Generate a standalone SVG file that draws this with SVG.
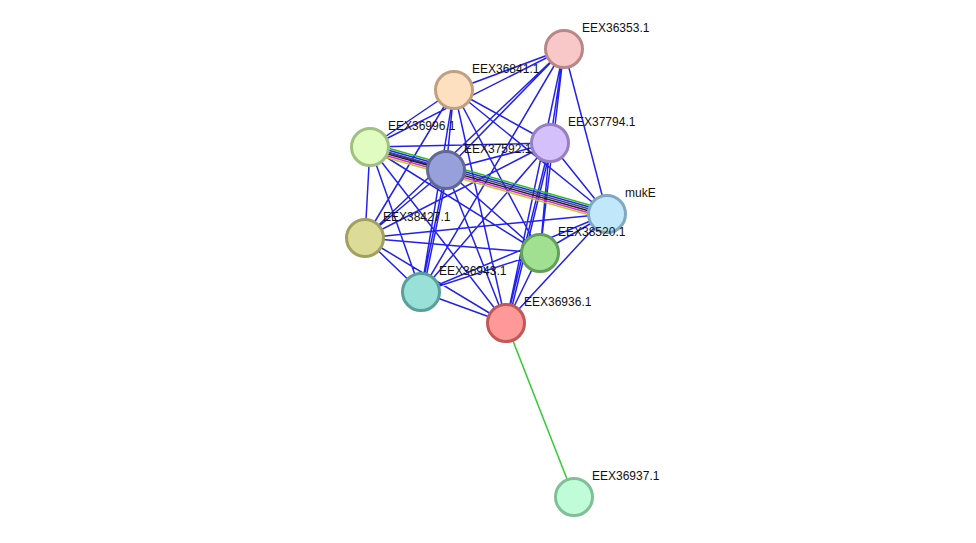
<svg xmlns="http://www.w3.org/2000/svg" width="976" height="543" viewBox="0 0 976 543">
<style>
.e{stroke:#2222ee;stroke-width:1.5;fill:none}
.n{stroke-width:3}
text{font-family:"Liberation Sans",Arial,sans-serif;font-size:12px;fill:#111}
</style>
<rect width="976" height="543" fill="#fff"/>
<g id="edges">
<path class="e" d="M564 49L454 90M564 49L370 147M564 49L550 143M564 49L446 170M564 49L607 214M564 49L365 238M564 49L540 253M564 49L421 292M564 49L506 323
M454 90L370 147M454 90L550 143M454 90L446 170M454 90L607 214M454 90L365 238M454 90L540 253M454 90L421 292M454 90L506 323
M370 147L550 143M370 147L446 170M370 147L365 238M370 147L540 253M370 147L421 292M370 147L506 323
M550 143L446 170M550 143L607 214M550 143L365 238M550 143L540 253M550 143L421 292M550 143L506 323M552 143L508 323
M446 170L365 238M446 170L540 253M446 170L421 292M448 170L423 292M446 170L506 323
M607 214L365 238M607 214L540 253M607 214L421 292M607 214L506 323
M365 238L540 253M365 238L421 292M365 238L506 323
M540 253L421 292M540 253L506 323M421 292L506 323"/>
<path d="M370 143L607 210" stroke="#22bb22" stroke-width="1.5"/>
<path d="M370 145L607 212" stroke="#2222ee" stroke-width="1.5"/>
<path d="M370 147L607 214" stroke="#444488" stroke-width="1.5"/>
<path d="M370 149L607 216" stroke="#222" stroke-width="1.5"/>
<path d="M370 151L607 218" stroke="#dd22dd" stroke-width="1.5"/>
<path d="M370 153L607 220" stroke="#bbcc22" stroke-width="1.5"/>
<path d="M506 323L574 497" stroke="#33cc33" stroke-width="1.5"/>
</g>
<g id="EEX36353.1"><circle class="n" cx="564" cy="49" r="18.5" fill="#f8c8c8" stroke="#b88888"/><text x="582" y="32">EEX36353.1</text></g>
<g id="EEX36841.1"><circle class="n" cx="454" cy="90" r="18.5" fill="#fde0c0" stroke="#c0a080"/><text x="472" y="73">EEX36841.1</text></g>
<g id="EEX36996.1"><circle class="n" cx="370" cy="147" r="18.5" fill="#e0fcc0" stroke="#a0c080"/><text x="388" y="130">EEX36996.1</text></g>
<g id="EEX37794.1"><circle class="n" cx="550" cy="143" r="18.5" fill="#d4c0fa" stroke="#9880c0"/><text x="568" y="126">EEX37794.1</text></g>
<g id="EEX37592.1"><circle class="n" cx="446" cy="170" r="18.5" fill="#98a0dc" stroke="#606898"/><text x="464" y="153">EEX37592.1</text></g>
<g id="mukE"><circle class="n" cx="607" cy="214" r="18.5" fill="#c0e8fa" stroke="#80a8c0"/><text x="625" y="197">mukE</text></g>
<g id="EEX38427.1"><circle class="n" cx="365" cy="238" r="18.5" fill="#dcdc98" stroke="#a0a060"/><text x="383" y="221">EEX38427.1</text></g>
<g id="EEX38520.1"><circle class="n" cx="540" cy="253" r="18.5" fill="#a0e090" stroke="#60a058"/><text x="558" y="236">EEX38520.1</text></g>
<g id="EEX36943.1"><circle class="n" cx="421" cy="292" r="18.5" fill="#98e0d8" stroke="#58a098"/><text x="439" y="275">EEX36943.1</text></g>
<g id="EEX36936.1"><circle class="n" cx="506" cy="323" r="18.5" fill="#ff9898" stroke="#c05858"/><text x="524" y="306">EEX36936.1</text></g>
<g id="EEX36937.1"><circle class="n" cx="574" cy="497" r="18.5" fill="#c0fcd8" stroke="#80c098"/><text x="592" y="480">EEX36937.1</text></g>
</svg>
